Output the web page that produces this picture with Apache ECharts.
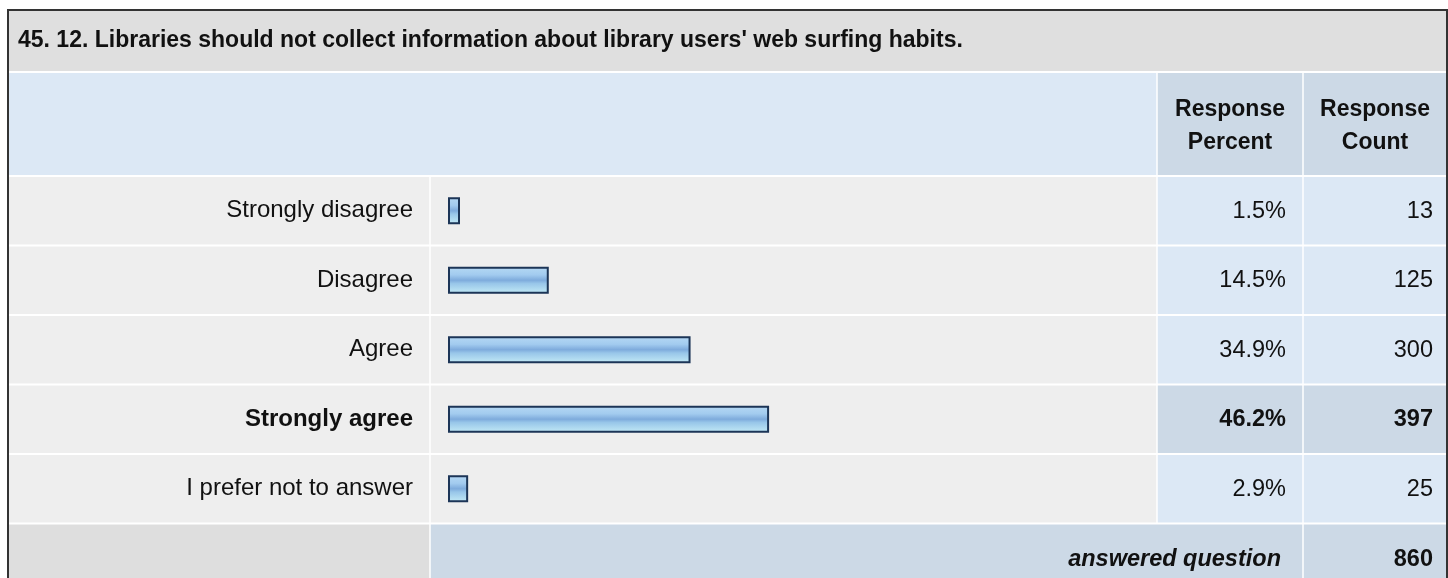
<!DOCTYPE html>
<html><head><meta charset="utf-8">
<script src="https://cdn.jsdelivr.net/npm/echarts@6/dist/echarts.min.js"></script>
<style>html,body{margin:0;padding:0;background:#fff}#c{width:1448px;height:578px}</style>
</head><body><div id="c"></div>
<script>
const titleText = "45. 12. Libraries should not collect information about library users' web surfing habits.";
const categories = ['Strongly disagree', 'Disagree', 'Agree', 'Strongly agree', 'I prefer not to answer'];
const percents = [1.5, 14.5, 34.9, 46.2, 2.9];
const counts = [13, 125, 300, 397, 25];
const highlightIndex = 3;
const answeredLabel = 'answered question';
const answeredTotal = 860;
const headerPercent = 'Response\nPercent';
const headerCount = 'Response\nCount';

const FONT = "'Liberation Sans', Arial, Helvetica, sans-serif";
const TXT = '#111111';
// layout
const X0 = 9, X1 = 1447;
const Y_TITLE_TOP = 11, Y_HEAD_TOP = 72, Y_ROWS_TOP = 176, ROW_H = 69.5;
const C1 = 430, C2 = 1157, C3 = 1303;
const nRows = categories.length;
const Y_ROWS_BOT = Y_ROWS_TOP + ROW_H * nRows;
const Y_BOT = 600;

const G = [];
function rect(x, y, w, h, fill, z) { G.push({type: 'rect', z: z || -20, silent: true, shape: {x, y, width: w, height: h}, style: {fill}}); }
function line(x1, y1, x2, y2, w) { G.push({type: 'line', z: -10, silent: true, shape: {x1, y1, x2, y2}, style: {stroke: '#ffffff', lineWidth: w}}); }
function text(t, x, y, align, weight, size, style, lh) {
  G.push({type: 'text', z: 20, silent: true, style: {text: t, x, y, align, verticalAlign: 'middle', fill: TXT,
    font: (style || 'normal') + ' ' + (weight || 'normal') + ' ' + size + 'px ' + FONT, lineHeight: lh || size}});
}

// title row
rect(X0, Y_TITLE_TOP, X1 - X0, Y_HEAD_TOP - Y_TITLE_TOP, '#dfdfdf');
// header row
rect(X0, Y_HEAD_TOP, C2 - X0, Y_ROWS_TOP - Y_HEAD_TOP, '#dce8f5');
rect(C2, Y_HEAD_TOP, X1 - C2, Y_ROWS_TOP - Y_HEAD_TOP, '#ccd9e6');
// data rows
for (let i = 0; i < nRows; i++) {
  const y = Y_ROWS_TOP + ROW_H * i;
  rect(X0, y, C2 - X0, ROW_H, '#eeeeee');
  rect(C2, y, X1 - C2, ROW_H, i === highlightIndex ? '#ccd9e6' : '#dce8f5');
}
// bottom row
rect(X0, Y_ROWS_BOT, C1 - X0, Y_BOT - Y_ROWS_BOT, '#dedede');
rect(C1, Y_ROWS_BOT, X1 - C1, Y_BOT - Y_ROWS_BOT, '#ccd9e6');

// separators
line(X0, Y_HEAD_TOP, X1, Y_HEAD_TOP, 2);
for (let i = 0; i <= nRows; i++) { const y = Y_ROWS_TOP + ROW_H * i; line(X0, y, X1, y, 2); }
line(C2, Y_HEAD_TOP, C2, Y_ROWS_BOT, 1.5);
line(C3, Y_HEAD_TOP, C3, Y_BOT, 1.5);
line(C1, Y_ROWS_TOP, C1, Y_BOT, 1.5);

// outer border
G.push({type: 'rect', z: 30, silent: true, shape: {x: 8, y: 10, width: 1439, height: 620}, style: {fill: 'none', stroke: '#333333', lineWidth: 2}});

// texts
text(titleText, 18, 40.5, 'left', 'bold', 23);
text(headerPercent, (C2 + C3) / 2, 126, 'center', 'bold', 23, 'normal', 33);
text(headerCount, (C3 + X1) / 2, 126, 'center', 'bold', 23, 'normal', 33);
for (let i = 0; i < nRows; i++) {
  const yc = Y_ROWS_TOP + ROW_H * (i + 0.5) + 0.5;
  const w = i === highlightIndex ? 'bold' : 'normal';
  text(percents[i].toFixed(1) + '%', 1286, yc, 'right', w, 23.5);
  text(String(counts[i]), 1433, yc, 'right', w, 23.5);
}
text(answeredLabel, 1281, 560, 'right', 'bold', 23.5, 'italic');
text(String(answeredTotal), 1433, 560, 'right', 'bold', 23.5);

const chart = echarts.init(document.getElementById('c'), null, {renderer: 'canvas'});
chart.setOption({
  animation: false,
  backgroundColor: '#ffffff',
  graphic: {elements: G},
  grid: {left: 448, width: 695, top: Y_ROWS_TOP, height: ROW_H * nRows, containLabel: false},
  xAxis: {type: 'value', min: 0, max: 100, show: false},
  yAxis: {
    type: 'category', data: categories, inverse: true,
    axisLine: {show: false}, axisTick: {show: false}, splitLine: {show: false},
    axisLabel: {
      margin: 35, fontSize: 24, fontFamily: FONT, color: TXT,
      formatter: (v, i) => (i === highlightIndex ? '{b|' + v + '}' : '{n|' + v + '}'),
      rich: {
        n: {fontSize: 24, fontFamily: FONT, color: TXT},
        b: {fontSize: 24, fontFamily: FONT, color: TXT, fontWeight: 'bold'}
      }
    }
  },
  series: [{
    type: 'bar', data: percents, barWidth: 27, barMinHeight: 12, z: 5,
    itemStyle: {
      borderColor: '#1c3557', borderWidth: 2,
      color: new echarts.graphic.LinearGradient(0, 0, 0, 1, [
        {offset: 0, color: '#b6d9f4'},
        {offset: 0.3, color: '#a2cbef'},
        {offset: 0.5, color: '#7eabdc'},
        {offset: 0.62, color: '#98c6e9'},
        {offset: 1, color: '#c4ebf6'}
      ])
    },
    emphasis: {disabled: true}
  }]
});
</script>
</body></html>
